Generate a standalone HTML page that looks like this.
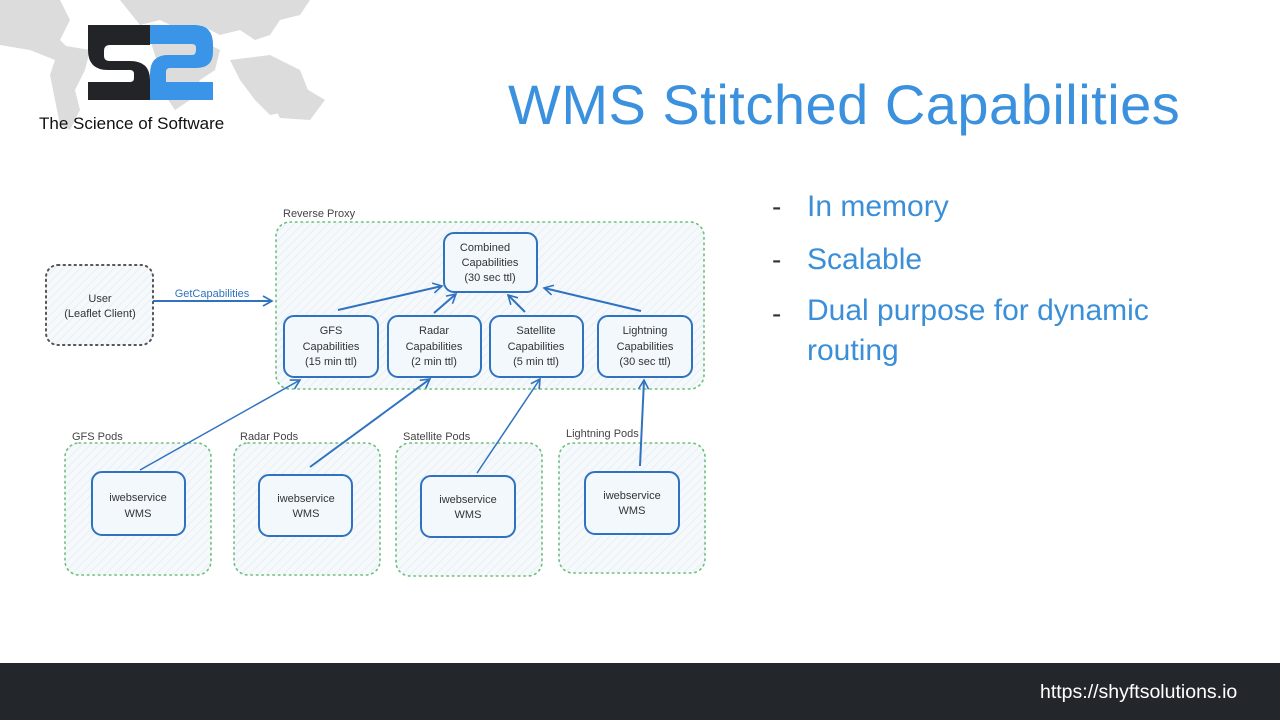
<!DOCTYPE html>
<html><head><meta charset="utf-8"><style>
body{margin:0;width:1280px;height:720px;overflow:hidden;background:#fff;font-family:"Liberation Sans",sans-serif;position:relative}
.t{position:absolute;white-space:nowrap}
</style></head><body>
<svg width="1280" height="720" style="position:absolute;left:0;top:0">
<defs>
<pattern id="h" width="6" height="6" patternUnits="userSpaceOnUse" patternTransform="rotate(45)"><rect width="6" height="6" fill="#f6f9fc"/><line x1="0" y1="0" x2="0" y2="6" stroke="#e3ebf3" stroke-width="1.5"/></pattern>
<marker id="a" markerWidth="12" markerHeight="12" refX="10" refY="6" orient="auto" markerUnits="userSpaceOnUse"><path d="M1,1 L10,6 L1,11" fill="none" stroke="#2f73c0" stroke-width="1.6"/></marker>
</defs>
<!-- map -->
<g fill="#dcdcdc">
<path d="M0,0 H60 L70,20 60,40 75,55 55,60 30,50 0,45Z"/>
<path d="M120,0 H310 L300,15 280,20 270,35 255,40 240,30 220,35 200,25 180,30 160,20 140,25Z"/>
<path d="M60,45 L90,50 85,70 75,90 80,110 70,130 60,125 55,100 50,75Z"/>
<path d="M150,40 L200,40 220,50 215,70 200,80 190,100 175,110 165,95 160,70Z"/>
<path d="M230,60 L270,55 300,70 310,95 295,110 270,115 255,100 240,80Z"/>
<path d="M265,90 L300,85 325,100 310,120 280,118Z"/>
</g>
<!-- logo -->
<path d="M88,25 H150 V45 H110 Q104,45 104,51 V56 Q104,61 110,61 H130 Q150,61 150,80 V100 H88 V82 H130 Q134,82 134,78 V74 Q134,70 130,70 H108 Q88,70 88,50Z" fill="#222428"/>
<path d="M150,25 H195 Q213,25 213,45 V52 Q213,68 196,68 H170 Q166,68 166,72 V82 H213 V100 H150 V74 Q150,55 168,55 H192 Q196,55 196,50 V48 Q196,44 192,44 H150Z" fill="#3a94e8"/>
<!-- containers -->
<g fill="url(#h)" stroke="#6bbf7a" stroke-width="1.6" stroke-dasharray="1.5 4" stroke-linecap="round">
<rect x="276" y="222" width="428" height="167" rx="14"/>
<rect x="65" y="443" width="146" height="132" rx="14"/>
<rect x="234" y="443" width="146" height="132" rx="14"/>
<rect x="396" y="443" width="146" height="133" rx="14"/>
<rect x="559" y="443" width="146" height="130" rx="14"/>
</g>
<rect x="46" y="265" width="107" height="80" rx="12" fill="url(#h)" stroke="#555" stroke-width="2" stroke-dasharray="1.5 4" stroke-linecap="round"/>
<g fill="#f3f8fd" stroke="#2f73c0" stroke-width="2">
<rect x="444" y="233" width="93" height="59" rx="10"/>
<rect x="284" y="316" width="94" height="61" rx="10"/>
<rect x="388" y="316" width="93" height="61" rx="10"/>
<rect x="490" y="316" width="93" height="61" rx="10"/>
<rect x="598" y="316" width="94" height="61" rx="10"/>
<rect x="92" y="472" width="93" height="63" rx="10"/>
<rect x="259" y="475" width="93" height="61" rx="10"/>
<rect x="421" y="476" width="94" height="61" rx="10"/>
<rect x="585" y="472" width="94" height="62" rx="10"/>
</g>
<g stroke="#2f73c0" stroke-width="2" fill="none" marker-end="url(#a)">
<line x1="153" y1="301" x2="272" y2="301"/>
<line x1="338" y1="310" x2="442" y2="286"/>
<line x1="434" y1="313" x2="456" y2="294"/>
<line x1="525" y1="312" x2="508" y2="295"/>
<line x1="641" y1="311" x2="544" y2="288"/>
<line x1="140" y1="470" x2="300" y2="380" stroke-width="1.5"/>
<line x1="310" y1="467" x2="430" y2="379"/>
<line x1="477" y1="473" x2="540" y2="379" stroke-width="1.5"/>
<line x1="640" y1="466" x2="644" y2="380"/>
</g>
<g font-family="Liberation Sans, sans-serif" font-size="11" fill="#333" text-anchor="middle">
<text x="485" y="251">Combined</text><text x="490" y="266">Capabilities</text><text x="490" y="281">(30 sec ttl)</text>
<text x="331" y="334">GFS</text><text x="331" y="350">Capabilities</text><text x="331" y="365">(15 min ttl)</text>
<text x="434" y="334">Radar</text><text x="434" y="350">Capabilities</text><text x="434" y="365">(2 min ttl)</text>
<text x="536" y="334">Satellite</text><text x="536" y="350">Capabilities</text><text x="536" y="365">(5 min ttl)</text>
<text x="645" y="334">Lightning</text><text x="645" y="350">Capabilities</text><text x="645" y="365">(30 sec ttl)</text>
<text x="100" y="302">User</text><text x="100" y="317">(Leaflet Client)</text>
<text x="138" y="501">iwebservice</text><text x="138" y="517">WMS</text>
<text x="306" y="502">iwebservice</text><text x="306" y="517">WMS</text>
<text x="468" y="503">iwebservice</text><text x="468" y="518">WMS</text>
<text x="632" y="499">iwebservice</text><text x="632" y="514">WMS</text>
<text x="212" y="297" fill="#2f73c0">GetCapabilities</text>
</g>
<g font-family="Liberation Sans, sans-serif" font-size="11" fill="#444">
<text x="283" y="217">Reverse Proxy</text>
<text x="72" y="440">GFS Pods</text>
<text x="240" y="440">Radar Pods</text>
<text x="403" y="440">Satellite Pods</text>
<text x="566" y="437">Lightning Pods</text>
</g>
<rect x="0" y="663" width="1280" height="57" fill="#23262b"/>
</svg>
<div class="t" style="left:39px;top:114px;font-size:17px;color:#111">The Science of Software</div>
<div class="t" style="left:508px;top:72px;font-size:56px;color:#3b91dd;font-weight:300;letter-spacing:0.5px">WMS Stitched Capabilities</div>
<div class="t" style="left:772px;top:191px;font-size:28px;color:#333">-</div>
<div class="t" style="left:807px;top:190px;font-size:30px;color:#3a8fd8">In memory</div>
<div class="t" style="left:772px;top:244px;font-size:28px;color:#333">-</div>
<div class="t" style="left:807px;top:243px;font-size:30px;color:#3a8fd8">Scalable</div>
<div class="t" style="left:772px;top:298px;font-size:28px;color:#333">-</div>
<div class="t" style="left:807px;top:297px;font-size:30px;color:#3a8fd8;line-height:40px;margin-top:-6px">Dual purpose for dynamic<br>routing</div>
<div class="t" style="left:1040px;top:681px;font-size:19.5px;color:#fff">https://shyftsolutions.io</div>
</body></html>
